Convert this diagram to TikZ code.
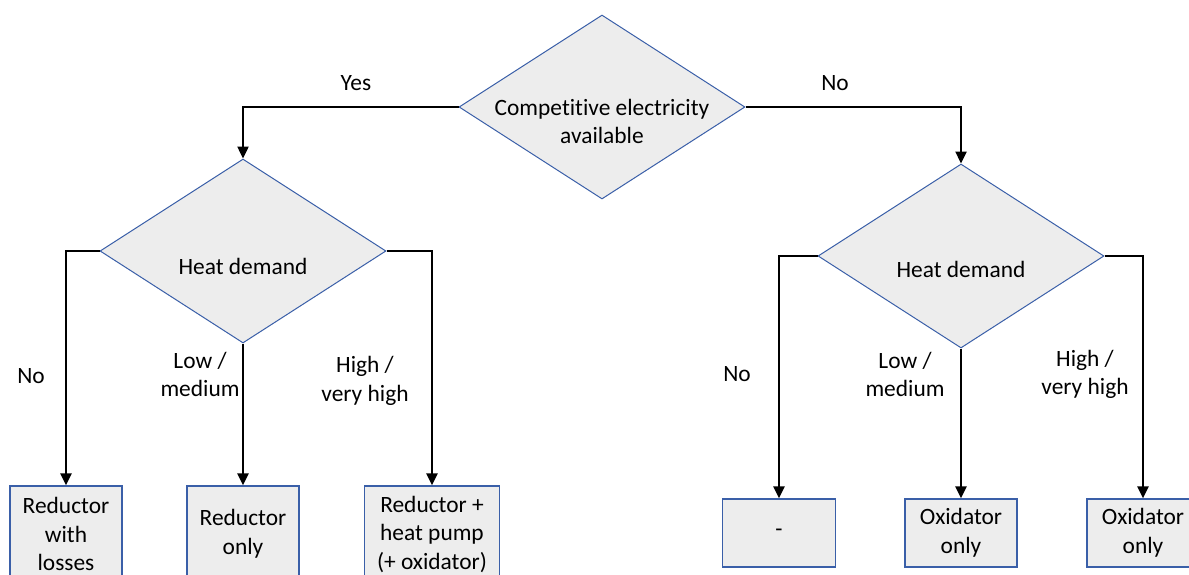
\documentclass[tikz,border=0pt]{standalone}
\usepackage{fontspec}
\setmainfont{Carlito}[Ligatures=NoCommon]
\usetikzlibrary{shapes.geometric,arrows.meta}
\definecolor{boxfill}{HTML}{EDEDED}
\definecolor{boxline}{HTML}{3A5FA8}
\begin{document}
\begin{tikzpicture}[x=1pt,y=-1pt,
  font=\fontsize{23.4}{28.5}\selectfont,
  decision/.style={diamond, draw=boxline, fill=boxfill, line width=1pt, inner sep=0pt,
    minimum width=286pt, minimum height=184pt},
  outcome/.style={rectangle, draw=boxline, fill=boxfill, line width=1.2pt, align=center, inner sep=0pt},
  flow/.style={draw=black, line width=2.4pt, -{Triangle[length=12pt,width=11pt]}},
  lbl/.style={align=center, inner sep=0pt}]
\useasboundingbox (0,0) rectangle (1189,574);
\clip (0,0) rectangle (1189,574);

% decisions
\node[decision] (q1) at (602,107) {};
\node[lbl] (q1t) at (602,121.5) {Competitive electricity\\available};
\node[decision] (q2) at (243,251) {};
\node[lbl] (q2t) at (243,266) {Heat demand};
\node[decision] (q3) at (961,256) {};
\node[lbl] (q3t) at (961,269) {Heat demand};

% outcomes
\node[outcome, minimum width=112pt, minimum height=96pt] (r1) at (66,534) {Reductor\\with\\losses};
\node[outcome, minimum width=112pt, minimum height=96pt] (r2) at (243,534) {Reductor\\only};
\node[outcome, minimum width=135pt, minimum height=96pt] (r3) at (432,534) {Reductor +\\heat pump\\(+ oxidator)};
\node[outcome, minimum width=113pt, minimum height=68pt] (o1) at (779,533) {-};
\node[outcome, minimum width=112pt, minimum height=68pt] (o2) at (961,533) {Oxidator\\only};
\node[outcome, minimum width=112pt, minimum height=68pt] (o3) at (1143,533) {Oxidator\\only};

% connectors
\draw[flow] (q1.west) -| (q2.north);
\draw[flow] (q1.east) -| (q3.north);
\draw[flow] (q2.west) -| (r1.north);
\draw[flow] (q2.south) -- (r2.north);
\draw[flow] (q2.east) -| (r3.north);
\draw[flow] (q3.west) -| (o1.north);
\draw[flow] (q3.south) -- (o2.north);
\draw[flow] (q3.east) -| (o3.north);

% branch labels
\node[lbl] (yes) at (356,83) {Yes};
\node[lbl] (no) at (835,83) {No};
\node[lbl] (l1) at (31,376) {No};
\node[lbl] (l2) at (200,374.5) {Low /\\medium};
\node[lbl] (l3) at (365,381) {High /\\very high};
\node[lbl] (l4) at (737,374) {No};
\node[lbl] (l5) at (905,374.5) {Low /\\medium};
\node[lbl] (l6) at (1085,374.5) {High /\\very high};
\end{tikzpicture}
\end{document}
